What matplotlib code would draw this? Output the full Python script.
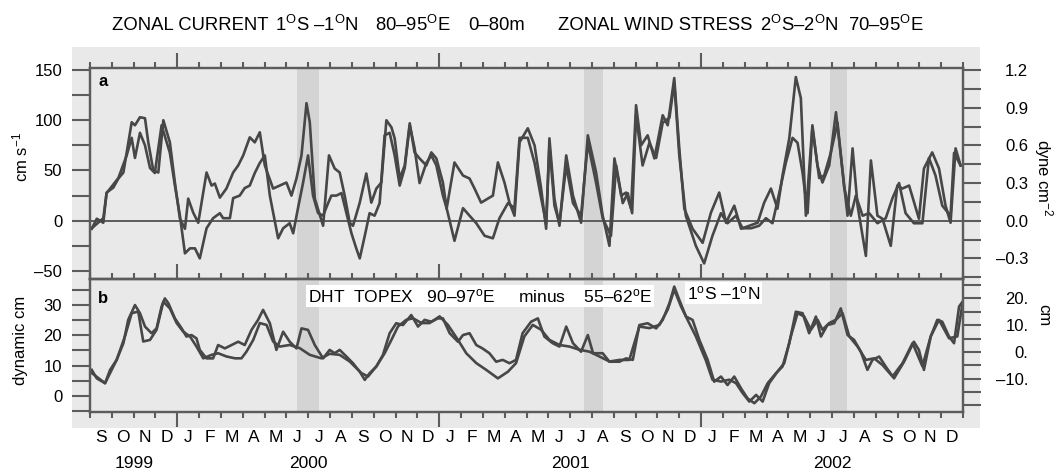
import numpy as np
import matplotlib
matplotlib.use("Agg")
import matplotlib.pyplot as plt
import matplotlib.transforms as mtransforms
from matplotlib.patches import Rectangle
from matplotlib.ticker import MultipleLocator

plt.rcParams["font.family"] = ["Liberation Sans", "DejaVu Sans"]
plt.rcParams["mathtext.fontset"] = "custom"
plt.rcParams["mathtext.rm"] = "Liberation Sans"
plt.rcParams["mathtext.it"] = "Liberation Sans:italic"
plt.rcParams["mathtext.bf"] = "Liberation Sans:bold"

# time axis: months since 1 Sep 1999
month_labels = list("SOND") + list("JFMAMJJASOND") * 3
years = ["1999", "2000", "2001", "2002"]
year_centers = [2, 10, 22, 34]
year_edges = [4, 16, 28]
bands = [(9.5, 10.5), (22.65, 23.5), (33.9, 34.7)]

# panel a: zonal current (cm/s)
current_t = [0.08, 0.31, 0.61, 0.76, 1.07, 1.30, 1.53, 1.68, 1.91, 2.06,
             2.29, 2.52, 2.67, 2.90, 3.13, 3.36, 3.66, 3.89, 4.12, 4.35,
             4.50, 4.73, 4.96, 5.34, 5.57, 5.72, 5.95, 6.25, 6.56, 6.79,
             7.02, 7.32, 7.55, 7.78, 8.01, 8.39, 8.70, 9.00, 9.23, 9.46,
             9.69, 9.92, 10.07, 10.30, 10.68, 10.95, 11.21, 11.44, 11.67, 11.90,
             12.05, 12.36, 12.66, 12.89, 13.12, 13.35, 13.58, 13.81, 13.96, 14.19,
             14.42, 14.65, 14.87, 15.10, 15.41, 15.64, 15.87, 16.17, 16.34, 16.70,
             17.09, 17.39, 17.62, 17.92, 18.23, 18.46, 18.69, 18.99, 19.22, 19.45,
             19.68, 20.06, 20.37, 20.67, 20.90, 21.05, 21.28, 21.51, 21.82, 22.13,
             22.50, 22.81, 23.19, 23.49, 23.80, 24.03, 24.34, 24.56, 24.79, 25.02,
             25.25, 25.55, 25.86, 26.24, 26.47, 26.77, 27.00, 27.23, 27.61, 28.07,
             28.45, 28.83, 29.14, 29.52, 29.83, 30.21, 30.59, 30.89, 31.20, 31.50,
             31.73, 32.04, 32.34, 32.57, 32.80, 33.10, 33.33, 33.56, 33.87, 34.18,
             34.40, 34.71, 34.94, 35.17, 35.55, 35.78, 36.08, 36.31, 36.69, 36.99,
             37.22, 37.53, 37.98, 38.21, 38.59, 38.90, 39.20, 39.43, 39.66, 39.89]
current_cms = [-8, 2, -2, 28, 33, 42, 48, 68, 98, 95,
               103, 102, 78, 50, 48, 100, 78, 38, 2, -8,
               22, 8, -2, 48, 35, 37, 23, 32, 48, 55,
               65, 83, 78, 88, 55, 32, 35, 38, 25, 42,
               65, 117, 98, 22, -5, 65, 52, 48, 25, -2,
               -5, 18, 47, 18, 32, 38, 100, 93, 82, 42,
               55, 97, 68, 62, 55, 68, 62, 38, 12, 58,
               45, 42, 32, 18, 22, 25, 58, 38, 18, 5,
               78, 92, 75, 32, -8, 82, 22, -5, 65, 25,
               -2, 85, 48, 5, -25, 62, 25, 28, 12, 115,
               75, 85, 62, 105, 95, 142, 72, 12, -8, -22,
               8, 28, -2, 15, -8, -5, -2, 18, 32, 12,
               45, 82, 143, 122, 5, 95, 55, 38, 55, 108,
               65, 5, 72, 15, -35, 60, 5, 2, -25, 35,
               32, 35, 2, 52, 68, 52, 15, -2, 72, 55]

# panel a: zonal wind stress (dyne cm^-2)
wind_t = [0.08, 0.61, 0.76, 1.30, 1.68, 1.91, 2.06, 2.29, 2.52, 2.75,
          2.97, 3.28, 3.66, 3.89, 4.12, 4.35, 4.58, 4.81, 5.03, 5.34,
          5.64, 5.95, 6.10, 6.41, 6.56, 6.86, 7.09, 7.32, 7.55, 7.78,
          8.01, 8.24, 8.62, 8.85, 9.15, 9.31, 9.53, 9.76, 9.99, 10.22,
          10.45, 10.68, 10.91, 11.06, 11.29, 11.52, 11.75, 11.98, 12.20, 12.36,
          12.59, 12.81, 13.04, 13.27, 13.50, 13.73, 13.96, 14.19, 14.42, 14.65,
          14.87, 15.10, 15.41, 15.64, 15.87, 16.17, 16.34, 16.70,
          17.09, 17.39, 17.70, 18.08, 18.46, 18.76, 19.15, 19.45, 19.68, 20.06,
          20.37, 20.67, 20.90, 21.05, 21.28, 21.51, 21.82, 22.13, 22.50, 22.81,
          23.19, 23.49, 23.87, 24.11, 24.41, 24.64, 24.84, 25.02, 25.32, 25.63,
          25.94, 26.24, 26.55, 26.77, 27.00, 27.30, 27.76, 28.14, 28.52, 28.91,
          29.21, 29.60, 29.90, 30.29, 30.66, 30.97, 31.27, 31.58, 31.88, 32.19,
          32.42, 32.65, 32.88, 33.10, 33.41, 33.64, 33.94, 34.25, 34.56, 34.86,
          35.09, 35.40, 35.70, 36.08, 36.46, 36.77, 37.07, 37.37, 37.75, 38.14,
          38.44, 38.74, 39.05, 39.43, 39.59, 39.89]
wind_dyne = [-0.06, 0.02, 0.22, 0.34, 0.52, 0.66, 0.50, 0.70, 0.60, 0.42,
             0.38, 0.76, 0.54, 0.28, 0.04, -0.26, -0.22, -0.22, -0.30, -0.06,
             0.02, 0.06, 0.02, 0.02, 0.18, 0.20, 0.26, 0.28, 0.38, 0.46,
             0.52, 0.20, -0.14, -0.06, -0.02, -0.10, 0.10, 0.30, 0.52, 0.20,
             0.06, 0.04, 0.14, 0.20, 0.20, 0.22, 0.06, -0.10, -0.22, -0.30,
             -0.12, 0.06, 0.04, 0.14, 0.68, 0.70, 0.52, 0.28, 0.42, 0.76,
             0.58, 0.30, 0.46, 0.52, 0.44, 0.20, 0.10, -0.16,
             0.10, 0.04, -0.02, -0.12, -0.14, 0.02, 0.14, 0.10, 0.66, 0.66,
             0.46, 0.18, -0.02, 0.60, 0.12, -0.02, 0.44, 0.14, 0.04, 0.62,
             0.30, 0.02, -0.12, 0.44, 0.14, 0.22, 0.06, 0.84, 0.44, 0.62,
             0.50, 0.78, 0.82, 1.10, 0.52, 0.04, -0.20, -0.34, -0.12, 0.06,
             -0.02, 0.04, -0.06, -0.06, -0.04, 0.02, -0.02, 0.22, 0.46, 0.66,
             0.62, 0.38, 0.06, 0.74, 0.34, 0.36, 0.54, 0.78, 0.26, 0.04,
             0.20, 0.04, 0.06, -0.02, 0.02, 0.18, 0.30, 0.06, -0.02, -0.02,
             0.50, 0.36, 0.12, 0.04, 0.54, 0.44]

# panel b: DHT (dynamic cm)
dht_t = [0.08, 0.31, 0.69, 0.92, 1.22, 1.53, 1.75, 2.06, 2.29, 2.52,
         2.82, 3.05, 3.28, 3.43, 3.59, 3.89, 4.20, 4.42, 4.65, 4.88,
         5.03, 5.34, 5.64, 5.87, 6.18, 6.48, 6.79, 7.09, 7.40, 7.70,
         7.93, 8.24, 8.54, 8.85, 9.15, 9.46, 9.69, 9.99, 10.30, 10.68,
         10.98, 11.21, 11.44, 11.75, 12.05, 12.36, 12.59, 12.81, 13.12, 13.42,
         13.73, 14.03, 14.34, 14.72, 15.03, 15.33, 15.64, 15.94, 16.17, 16.48,
         16.86, 17.09, 17.39, 17.70, 17.98, 18.30, 18.61, 18.91, 19.22, 19.52,
         19.82, 20.21, 20.52, 20.82, 21.20, 21.51, 21.82, 22.13, 22.50, 22.81,
         23.05, 23.49, 23.80, 24.26, 24.56, 24.87, 25.17, 25.55, 25.94, 26.24,
         26.55, 26.77, 27.00, 27.31, 27.61, 27.92, 28.30, 28.60, 28.91, 29.21,
         29.52, 29.83, 30.13, 30.44, 30.74, 31.05, 31.43, 31.73, 32.04, 32.34,
         32.65, 32.95, 33.26, 33.49, 33.79, 34.10, 34.40, 34.71, 35.01, 35.32,
         35.62, 35.85, 36.16, 36.46, 36.84, 37.30, 37.75, 37.98, 38.21, 38.52,
         38.82, 39.05, 39.36, 39.59, 39.82, 39.98]
dht_dyncm = [8.6, 5.8, 4.2, 8.6, 11.9, 17.4, 25.1, 30.0, 27.3, 22.9,
             20.7, 22.3, 29.5, 32.2, 30.6, 25.6, 22.3, 19.6, 20.1, 19.0,
             15.2, 12.4, 12.4, 16.8, 15.7, 16.8, 17.9, 16.8, 21.8, 25.1,
             28.4, 24.0, 15.2, 21.2, 17.9, 15.7, 22.3, 21.8, 16.8, 12.4,
             15.2, 14.1, 15.2, 13.0, 10.8, 8.0, 5.3, 7.5, 9.7, 13.5,
             20.7, 24.0, 23.4, 26.7, 22.9, 25.1, 24.5, 25.6, 25.6, 20.7,
             17.9, 20.1, 20.7, 16.8, 15.7, 14.1, 11.3, 11.9, 10.8, 11.9,
             20.7, 24.5, 25.6, 19.6, 17.4, 16.3, 22.9, 17.4, 14.6, 20.1,
             14.1, 14.1, 11.3, 11.3, 12.4, 11.9, 23.4, 24.0, 22.3, 25.1,
             30.6, 36.1, 31.7, 26.2, 25.1, 18.5, 11.9, 4.7, 6.4, 3.6,
             6.4, 2.5, -0.8, -2.4, -0.2, 4.2, 7.5, 9.7, 17.4, 27.8,
             27.3, 20.7, 26.2, 19.6, 23.4, 24.0, 28.9, 20.1, 18.5, 14.6,
             8.6, 11.9, 13.0, 9.7, 5.8, 11.3, 17.9, 15.2, 8.6, 19.6,
             25.1, 24.5, 19.6, 17.4, 29.5, 31.1]

# panel b: TOPEX sea level (cm)
topex_t = [0.08, 0.69, 1.22, 1.60, 1.91, 2.21, 2.44, 2.75, 3.05, 3.36,
           3.66, 3.97, 4.27, 4.58, 4.88, 5.19, 5.57, 5.87, 6.25, 6.64,
           6.94, 7.17, 7.48, 7.78, 8.09, 8.39, 8.70, 9.15, 9.61, 10.07,
           10.60, 10.98, 11.44, 11.90, 12.43, 12.74, 13.12, 13.50, 13.81, 14.11,
           14.49, 14.80, 15.19, 15.56, 16.02, 16.40, 16.86,
           17.24, 17.70, 18.15, 18.69, 19.15, 19.52, 19.90, 20.29, 20.67, 21.05,
           21.51, 21.97, 22.43, 22.88, 23.34, 23.80, 24.26, 24.71, 25.17, 25.63,
           26.09, 26.47, 26.77, 27.08, 27.38, 27.76, 28.21, 28.52, 28.91, 29.29,
           29.60, 29.90, 30.21, 30.52, 30.82, 31.12, 31.50, 31.81, 32.11, 32.42,
           32.72, 33.03, 33.34, 33.56, 33.87, 34.17, 34.48, 34.79, 35.17, 35.55,
           35.93, 36.31, 36.77, 37.23, 37.69, 38.14, 38.52, 38.90, 39.36, 39.74,
           39.98]
topex_cm = [-7.9, -11.7, -3.0, 5.8, 14.5, 15.1, 3.9, 4.5, 8.3, 18.8,
            16.3, 10.8, 7.6, 5.8, 2.0, -2.4, -1.1, -0.5, -1.7, -2.4,
            -2.4, 0.1, 4.5, 10.8, 10.1, 3.9, 2.0, 2.6, 1.4, -1.1,
            -2.4, -0.7, -1.1, -3.6, -7.9, -9.2, -5.4, -0.5, 4.5, 9.5,
            12.0, 12.6, 10.8, 10.8, 13.3, 10.1, 4.5,
            -0.5, -4.2, -6.7, -9.9, -7.4, -4.2, 5.8, 10.1, 8.3, 4.5,
            2.6, 2.0, 0.8, 0.1, -1.7, -3.6, -3.0, -3.0, 9.5, 8.9,
            10.1, 15.8, 23.3, 17.0, 12.0, 5.8, -3.0, -10.4, -11.1, -10.4,
            -11.7, -15.4, -18.6, -16.1, -18.6, -11.7, -7.4, -4.2, 5.8, 14.5,
            13.3, 8.3, 12.0, 8.3, 10.8, 12.0, 14.5, 5.8, 2.0, -3.0,
            -2.4, -4.9, -9.2, -4.2, 3.3, -5.4, 5.8, 12.0, 5.1, 5.8,
            18.3]

INK = "#474747"
FRAME = "#5c5c5c"
PAPER = "#e9e9e9"
BAND = "#d4d4d4"
W, H = 1056, 471


def fx(px):
    return px / W


def fy(py):
    return 1 - py / H


fig = plt.figure(figsize=(W / 100, H / 100), dpi=100)
fig.add_artist(Rectangle((fx(72), fy(428)), fx(980) - fx(72), fy(47) - fy(428),
                         transform=fig.transFigure, facecolor=PAPER,
                         edgecolor="none", zorder=0))

ax_a = fig.add_axes([fx(90), fy(279), fx(963) - fx(90), fy(68) - fy(279)])
ax_b = fig.add_axes([fx(90), fy(412), fx(963) - fx(90), fy(279) - fy(412)])
ax_a2 = ax_a.twinx()
ax_b2 = ax_b.twinx()

for ax in (ax_a, ax_b, ax_a2, ax_b2):
    ax.set_facecolor("none")
    ax.set_xlim(0, 40)
    for sp in ax.spines.values():
        sp.set_color(FRAME)
        sp.set_linewidth(1.6)

for ax in (ax_a, ax_b):
    for s, e in bands:
        ax.axvspan(s, e, color=BAND, lw=0, zorder=0)

# panel a
ax_a.axhline(0, color=FRAME, lw=1.4, zorder=1)
ax_a.plot(current_t, current_cms, color=INK, lw=1.9, zorder=2)
ax_a2.plot(wind_t, wind_dyne, color=INK, lw=1.9)
ax_a.set_ylim(-58, 152)
ax_a2.set_ylim(-58 / 125, 152 / 125)

ax_a.set_yticks([-50, 0, 50, 100, 150])
ax_a.set_yticklabels(["\u201350", "0", "50", "100", "150"])
ax_a.yaxis.set_minor_locator(MultipleLocator(25))
ax_a2.set_yticks([-0.3, 0.0, 0.3, 0.6, 0.9, 1.2])
ax_a2.set_yticklabels(["\u20130.3", "0.0", "0.3", "0.6", "0.9", "1.2"], ha="right")
ax_a2.yaxis.set_minor_locator(MultipleLocator(0.15))

# panel b
ax_b.plot(dht_t, dht_dyncm, color=INK, lw=1.9, zorder=2)
ax_b2.plot(topex_t, topex_cm, color=INK, lw=1.9)
ax_b.set_ylim(-5.3, 38.6)
ax_b2.set_ylim(-22.5, 27.3)
ax_b.set_yticks([0, 10, 20, 30])
ax_b.yaxis.set_minor_locator(MultipleLocator(5))
ax_b2.set_yticks([-10, 0, 10, 20])
ax_b2.set_yticklabels(["\u201310.", "0.", "10.", "20."], ha="right")
ax_b2.yaxis.set_minor_locator(MultipleLocator(5))

for ax in (ax_a, ax_b):
    ax.tick_params(axis="y", which="both", direction="out", length=13, width=1.5,
                   color=FRAME, labelsize=12, pad=7)
for ax in (ax_a2, ax_b2):
    ax.tick_params(axis="y", which="both", direction="out", length=13, width=1.5,
                   color=FRAME, labelsize=12, pad=34)

# month ticks
for ax in (ax_a, ax_b):
    ax.set_xticks(year_edges)
    ax.set_xticks(np.arange(41), minor=True)
    ax.tick_params(axis="x", which="major", direction="out", length=11, width=1.5,
                   color=FRAME, labelbottom=False, labeltop=False)
    ax.tick_params(axis="x", which="minor", direction="out", length=4.5, width=1.5,
                   color=FRAME)
ax_a.tick_params(axis="x", which="both", top=True, bottom=False)
ax_b.tick_params(axis="x", which="both", top=True, bottom=True)

trans_b = mtransforms.blended_transform_factory(ax_b.transData, ax_b.transAxes)
for i, name in enumerate(month_labels):
    ax_b.text(i + 0.5, -0.195, name, transform=trans_b, ha="center", va="center",
              fontsize=12.5)
for c, yr in zip(year_centers, years):
    ax_b.text(c, -0.385, yr, transform=trans_b, ha="center", va="center",
              fontsize=12.5)

# axis titles
ax_a.text(-0.080, 0.578, "cm s$^{-1}$", transform=ax_a.transAxes, rotation=90,
          ha="center", va="center", fontsize=12)
ax_b.text(-0.080, 0.541, "dynamic cm", transform=ax_b.transAxes, rotation=90,
          ha="center", va="center", fontsize=12)
ax_a2.text(1.092, 0.479, "dyne cm$^{-2}$", transform=ax_a2.transAxes, rotation=270,
           ha="center", va="center", fontsize=12)
ax_b2.text(1.092, 0.729, "cm", transform=ax_b2.transAxes, rotation=270,
           ha="center", va="center", fontsize=12)

ax_a.text(0.0149, 0.934, "a", transform=ax_a.transAxes, ha="center", va="center",
          fontsize=12, fontweight="bold")
ax_b.text(0.0149, 0.85, "b", transform=ax_b.transAxes, ha="center", va="center",
          fontsize=12, fontweight="bold")

box = dict(facecolor="white", edgecolor="none", pad=1.5)
ax_b2.text(0.2497, 0.872,
           "DHT  TOPEX   90\u201397$^{\\rm o}$E     minus    55\u201362$^{\\rm o}$E",
           transform=ax_b2.transAxes, ha="left", va="center", fontsize=12.5,
           bbox=box, zorder=5)
ax_b2.text(0.684, 0.895, "1$^{\\rm o}$S \u20131$^{\\rm o}$N",
           transform=ax_b2.transAxes, ha="left", va="center", fontsize=12.5,
           bbox=box, zorder=5)

# title segments
title_parts = [("ZONAL CURRENT", 112), ("1$^{\\rm O}$S \u20131$^{\\rm O}$N", 275),
               ("80\u201395$^{\\rm O}$E", 375), ("0\u201380m", 468),
               ("ZONAL WIND STRESS", 558), ("2$^{\\rm O}$S\u20132$^{\\rm O}$N", 760),
               ("70\u201395$^{\\rm O}$E", 848)]
for txt, px in title_parts:
    fig.text(fx(px), fy(25), txt, ha="left", va="center", fontsize=13.3)

fig.savefig("out.png", dpi=100)
